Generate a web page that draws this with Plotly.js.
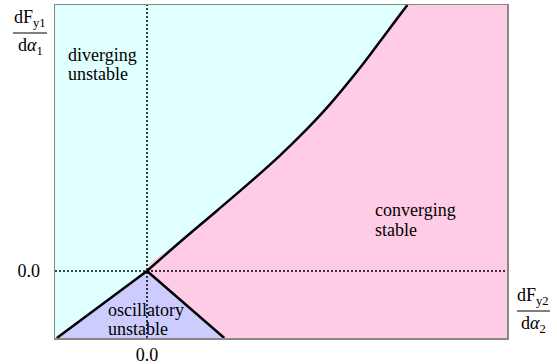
<!DOCTYPE html>
<html>
<head>
<meta charset="utf-8">
<script src="https://cdn.plot.ly/plotly-3.0.1.min.js"></script>
<style>
  html, body { margin: 0; padding: 0; background: #fff; }
  #chart { width: 557px; height: 364px; }
</style>
</head>
<body>
<div id="chart"></div>
<script>
// Stability boundary in the (dFy2/dα2, dFy1/dα1) plane
const boundaryX = [0, 0.34, 0.76, 1.15, 1.45, 1.74, 1.99, 2.32, 2.53, 2.83];
const boundaryY = [0, 0.41, 0.90, 1.36, 1.73, 2.12, 2.49, 3.04, 3.42, 3.97];

// Two straight branches below the origin (oscillatory wedge)
const leftBranchX = [-0.98, 0];
const leftBranchY = [-1, 0];
const rightBranchX = [0, 0.84];
const rightBranchY = [0, -1];

// Axis extents
const xRange = [-1, 3.913];
const yRange = [-1, 3.97];

const tickVals = [0];
const tickText = ['0.0'];

const CYAN = '#E0FFFF';
const PINK = '#FFCCE5';
const LAVENDER = '#CCCCFF';
const SERIF = '"Liberation Serif", "Times New Roman", Times, serif';

// Stable region: right of the curve and of the lower-right branch
const stableX = boundaryX.concat([6, 6]).concat(rightBranchX.slice().reverse());
const stableY = boundaryY.concat([6, -3]).concat(rightBranchY.slice().reverse());

// Oscillatory region: triangle under the origin
const oscX = leftBranchX.concat(rightBranchX.slice(1));
const oscY = leftBranchY.concat(rightBranchY.slice(1));

const traces = [
  { x: stableX, y: stableY, mode: 'lines', fill: 'toself', fillcolor: PINK,
    line: { width: 0, color: PINK, shape: 'spline', smoothing: 1 }, hoverinfo: 'skip' },
  { x: oscX, y: oscY, mode: 'lines', fill: 'toself', fillcolor: LAVENDER,
    line: { width: 0, color: LAVENDER }, hoverinfo: 'skip' },
  // dotted zero lines
  { x: [0, 0], y: yRange, mode: 'lines',
    line: { color: '#000', width: 1.5, dash: '2px,2px' }, hoverinfo: 'skip' },
  { x: xRange, y: [0, 0], mode: 'lines',
    line: { color: '#000', width: 1.5, dash: '2px,2px' }, hoverinfo: 'skip' },
  // boundaries
  { x: boundaryX, y: boundaryY, mode: 'lines',
    line: { color: '#000', width: 2.5, shape: 'spline', smoothing: 1 }, hoverinfo: 'skip' },
  { x: leftBranchX, y: leftBranchY, mode: 'lines',
    line: { color: '#000', width: 2.5 }, hoverinfo: 'skip' },
  { x: rightBranchX, y: rightBranchY, mode: 'lines',
    line: { color: '#000', width: 2.5 }, hoverinfo: 'skip' }
];

// pixel -> paper helpers for the text placed around the plot
const M = { l: 55, r: 50, t: 5, b: 26 };
const W = 557, H = 364;
const PW = W - M.l - M.r, PH = H - M.t - M.b;
const px = p => (p - M.l) / PW;
const py = p => (H - M.b - p) / PH;

function label(text, x, y, xanchor) {
  return { text: text, xref: 'paper', yref: 'paper', x: px(x), y: py(y),
           xanchor: xanchor || 'left', yanchor: 'middle', showarrow: false,
           font: { family: SERIF, size: 18, color: '#000' } };
}

const annotations = [
  label('diverging', 66, 55),
  label('unstable', 66, 74),
  label('converging', 373, 210),
  label('stable', 373, 230),
  label('oscillatory', 106, 310),
  label('unstable', 106, 329),
  label('dF<sub>y1</sub>', 30, 18, 'center'),
  label('d<i>α</i><sub>1</sub>', 30, 46, 'center'),
  label('dF<sub>y2</sub>', 533, 296, 'center'),
  label('d<i>α</i><sub>2</sub>', 533, 324, 'center')
];

const shapes = [
  { type: 'line', xref: 'paper', yref: 'paper', x0: px(13), x1: px(47), y0: py(33), y1: py(33),
    line: { color: '#000', width: 1 } },
  { type: 'line', xref: 'paper', yref: 'paper', x0: px(517), x1: px(550), y0: py(311), y1: py(311),
    line: { color: '#000', width: 1 } }
];

const axisCommon = {
  showgrid: false, zeroline: false, ticks: '',
  showline: true, mirror: true, linecolor: '#888', linewidth: 1.5,
  tickvals: tickVals, ticktext: tickText,
  tickfont: { family: SERIF, size: 18, color: '#000' },
  fixedrange: true
};

const layout = {
  width: W, height: H,
  margin: M,
  paper_bgcolor: '#fff',
  plot_bgcolor: CYAN,
  showlegend: false,
  xaxis: Object.assign({}, axisCommon, { range: xRange, ticklabelstandoff: 0 }),
  yaxis: Object.assign({}, axisCommon, { range: yRange, ticklabelstandoff: 10 }),
  annotations: annotations,
  shapes: shapes
};

Plotly.newPlot('chart', traces, layout, { displayModeBar: false, staticPlot: true });
</script>
</body>
</html>
